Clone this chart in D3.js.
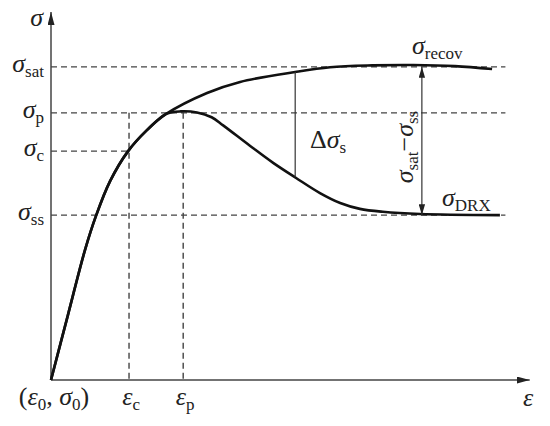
<!DOCTYPE html>
<html>
<head>
<meta charset="utf-8">
<script src="https://cdn.jsdelivr.net/npm/d3@7"></script>
<style>
  body { margin: 0; background: #fff; }
</style>
</head>
<body>
<div id="chart"></div>
<script>
// stress-strain curve, values in arbitrary units
// [strain, stress]
var hardening = [[0, 0], [0.037, 17.7], [0.074, 35.3], [0.098, 44.6], [0.129, 54.1],
                 [0.168, 62.2], [0.209, 67.9], [0.251, 72.3]];
var recovTail = [[0.340, 78.0], [0.412, 81.0], [0.532, 83.7], [0.608, 85.0],
                 [0.700, 85.5], [0.789, 85.6], [0.880, 85.3], [0.961, 84.5]];
var drxTail = [[0.283, 73.0], [0.318, 72.7], [0.350, 71.4], [0.375, 69.2], [0.434, 63.6],
               [0.484, 59.0], [0.534, 54.9], [0.586, 50.8], [0.630, 48.1], [0.673, 46.5],
               [0.723, 45.7], [0.804, 45.1], [0.978, 44.8]];

var levelNames = ["sat", "p", "c", "ss"];
var levelValues = [85.1, 72.6, 62.2, 44.8];
var strainNames = ["c", "p"];
var strainValues = [0.170, 0.288];

var deltaStrain = 0.532;      // where the Δσs bracket sits
var deltaRange = [83.7, 55.1];
var spanStrain = 0.808;       // σsat − σss double arrow

var width = 550, height = 426;
var serif = "Liberation Serif";

var x = d3.scaleLinear().domain([0, 1]).range([51, 510]);
var y = d3.scaleLinear().domain([0, 100]).range([380, 12]);

var svg = d3.select("#chart").append("svg")
    .attr("width", width)
    .attr("height", height);

var defs = svg.append("defs");
function arrow(id, len, half) {
  defs.append("marker")
      .attr("id", id)
      .attr("viewBox", "0 0 " + len + " " + (half * 2))
      .attr("refX", len).attr("refY", half)
      .attr("markerWidth", len).attr("markerHeight", half * 2)
      .attr("markerUnits", "userSpaceOnUse")
      .attr("orient", "auto-start-reverse")
    .append("path")
      .attr("d", "M0,0L" + len + "," + half + "L0," + (half * 2) + "Z")
      .attr("fill", "#222");
}
arrow("axisArrow", 13, 3.5);
arrow("smallArrow", 11, 3.2);

// dashed guide lines
var dash = "6,4";
levelValues.forEach(function(v, i) {
  var xEnd = levelNames[i] === "c" ? x(strainValues[0]) : x(0.99);
  svg.append("line")
      .attr("x1", x(0)).attr("x2", xEnd)
      .attr("y1", y(v)).attr("y2", y(v))
      .attr("stroke", "#444").attr("stroke-width", 1.4)
      .attr("stroke-dasharray", dash);
});
strainValues.forEach(function(e) {
  svg.append("line")
      .attr("x1", x(e)).attr("x2", x(e))
      .attr("y1", y(levelValues[1])).attr("y2", y(0))
      .attr("stroke", "#444").attr("stroke-width", 1.4)
      .attr("stroke-dasharray", dash);
});

// axes
svg.append("line")
    .attr("x1", x(0)).attr("y1", y(0))
    .attr("x2", x(1.043)).attr("y2", y(0))
    .attr("stroke", "#444").attr("stroke-width", 1.5)
    .attr("marker-end", "url(#axisArrow)");
svg.append("line")
    .attr("x1", x(0)).attr("y1", y(0))
    .attr("x2", x(0)).attr("y2", y(100))
    .attr("stroke", "#444").attr("stroke-width", 1.5)
    .attr("marker-end", "url(#axisArrow)");

// curves
var line = d3.line()
    .x(function(d) { return x(d[0]); })
    .y(function(d) { return y(d[1]); })
    .curve(d3.curveCatmullRom.alpha(0.5));

[hardening.concat(recovTail), hardening.concat(drxTail)].forEach(function(pts) {
  svg.append("path")
      .datum(pts)
      .attr("d", line)
      .attr("fill", "none")
      .attr("stroke", "#111")
      .attr("stroke-width", 2.6)
      .attr("stroke-linejoin", "round");
});

// Δσs bracket and σsat−σss double arrow
svg.append("line")
    .attr("x1", x(deltaStrain)).attr("x2", x(deltaStrain))
    .attr("y1", y(deltaRange[0])).attr("y2", y(deltaRange[1]))
    .attr("stroke", "#333").attr("stroke-width", 1.2);
svg.append("line")
    .attr("x1", x(spanStrain)).attr("x2", x(spanStrain))
    .attr("y1", y(levelValues[3])).attr("y2", y(levelValues[0]))
    .attr("stroke", "#333").attr("stroke-width", 1.2)
    .attr("marker-start", "url(#smallArrow)")
    .attr("marker-end", "url(#smallArrow)");

// text helper: list of [string, kind] where kind = "g" (italic greek), "s" (subscript), "n" (normal)
function label(g, parts, big, small) {
  var t = g.append("text")
      .attr("font-family", serif)
      .attr("fill", "#222");
  var shifted = false;
  parts.forEach(function(p) {
    var ts = t.append("tspan").text(p[0]);
    if (p[1] === "g") {
      ts.attr("font-style", "italic").attr("font-size", big);
      if (shifted) { ts.attr("dy", -5); shifted = false; }
    } else if (p[1] === "s") {
      ts.attr("font-size", small);
      if (!shifted) { ts.attr("dy", 5); shifted = true; }
    } else {
      ts.attr("font-size", big);
      if (shifted) { ts.attr("dy", -5); shifted = false; }
    }
  });
  return t;
}

// y labels
label(svg, [["σ", "g"]], 26, 17)
    .attr("x", 43).attr("y", 26).attr("text-anchor", "end");
levelValues.forEach(function(v, i) {
  label(svg, [["σ", "g"], [levelNames[i], "s"]], 26, 17)
      .attr("x", 44).attr("y", y(v) + 5).attr("text-anchor", "end");
});

// x labels
label(svg, [["(", "n"], ["ε", "g"], ["0", "s"], [", ", "n"], ["σ", "g"], ["0", "s"], [")", "n"]], 26, 17)
    .attr("x", 54).attr("y", 405).attr("text-anchor", "middle");
strainValues.forEach(function(e, i) {
  label(svg, [["ε", "g"], [strainNames[i], "s"]], 26, 17)
      .attr("x", x(e) + 2).attr("y", 405).attr("text-anchor", "middle");
});
label(svg, [["ε", "g"]], 26, 17)
    .attr("x", 528).attr("y", 406).attr("text-anchor", "middle");

// curve labels
label(svg, [["σ", "g"], ["recov", "s"]], 26, 17)
    .attr("x", 412).attr("y", 54);
label(svg, [["σ", "g"], ["DRX", "s"]], 26, 17)
    .attr("x", 442).attr("y", 206);
label(svg, [["Δ", "n"], ["σ", "g"], ["s", "s"]], 26, 17)
    .attr("x", 310).attr("y", 148);

var rot = svg.append("g").attr("transform", "translate(413,147) rotate(-90)");
label(rot, [["σ", "g"], ["sat", "s"], ["−", "n"], ["σ", "g"], ["ss", "s"]], 26, 17)
    .attr("x", 0).attr("y", 0).attr("text-anchor", "middle");
</script>
</body>
</html>
